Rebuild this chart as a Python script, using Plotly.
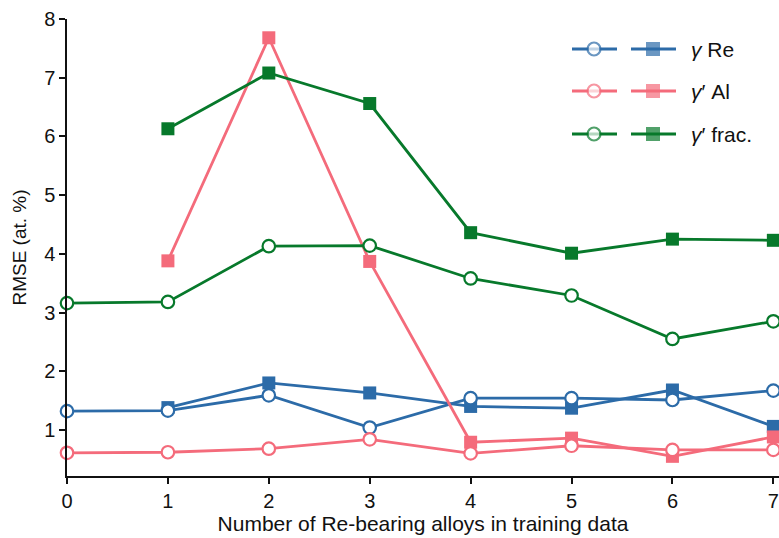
import plotly.graph_objects as go

# Number of Re-bearing alloys included in the training set
n_alloys = [0, 1, 2, 3, 4, 5, 6, 7]
n_alloys_sq = [1, 2, 3, 4, 5, 6, 7]

# RMSE (at. %) — open-circle series
re_gamma_open = [1.32, 1.33, 1.59, 1.04, 1.54, 1.54, 1.51, 1.67]
al_gprime_open = [0.61, 0.62, 0.68, 0.84, 0.60, 0.73, 0.66, 0.66]
frac_gprime_open = [3.16, 3.18, 4.13, 4.14, 3.58, 3.29, 2.55, 2.85]

# RMSE (at. %) — filled-square series
re_gamma_sq = [1.38, 1.80, 1.63, 1.40, 1.37, 1.68, 1.06]
al_gprime_sq = [3.88, 7.68, 3.87, 0.79, 0.86, 0.55, 0.88]
frac_gprime_sq = [6.13, 7.08, 6.56, 4.36, 4.01, 4.25, 4.23]

x_ticks = [0, 1, 2, 3, 4, 5, 6, 7]
y_ticks = [1, 2, 3, 4, 5, 6, 7, 8]

BLUE = "#2c6ba8"
PINK = "#f46b7b"
GREEN = "#07792b"
FONT = "Liberation Sans"
INK = "#111111"
LW = 2.8

W, H = 779, 538
ML, MR, MT, MB = 67, 0, 19, 62

fig = go.Figure()

series = [
    (n_alloys_sq, re_gamma_sq, n_alloys, re_gamma_open, BLUE),
    (n_alloys_sq, al_gprime_sq, n_alloys, al_gprime_open, PINK),
    (n_alloys_sq, frac_gprime_sq, n_alloys, frac_gprime_open, GREEN),
]

for xs, ys, xc, yc, col in series:
    fig.add_trace(go.Scatter(
        x=xs, y=ys, mode="lines+markers", showlegend=False,
        line=dict(color=col, width=LW),
        marker=dict(symbol="square", size=13, color=col, line=dict(width=0)),
        cliponaxis=False, hoverinfo="skip",
    ))
    fig.add_trace(go.Scatter(
        x=xc, y=yc, mode="lines+markers", showlegend=False,
        line=dict(color=col, width=LW),
        marker=dict(symbol="circle", size=12.5, color="white",
                    line=dict(width=2.2, color=col)),
        cliponaxis=False, hoverinfo="skip",
    ))

# Legend drawn on a pixel-scaled overlay axis: open-circle and filled-square
# samples side by side, followed by the label
plot_w = W - ML - MR
plot_h = H - MT - MB
legend_rows = [
    (49, BLUE, "<i>γ</i> Re"),
    (91, PINK, "<i>γ</i>′ Al"),
    (134, GREEN, "<i>γ</i>′ frac."),
]
for py, col, label in legend_rows:
    yy = (H - MB) - py
    fig.add_trace(go.Scatter(
        x=[572 - ML, 594 - ML, 617 - ML], y=[yy, yy, yy],
        xaxis="x2", yaxis="y2", mode="lines+markers", showlegend=False,
        line=dict(color=col, width=LW),
        marker=dict(symbol="circle", size=[0, 13, 0], color="white",
                    line=dict(width=[0, 2.2, 0], color=col)),
        hoverinfo="skip",
    ))
    fig.add_trace(go.Scatter(
        x=[631 - ML, 653 - ML, 676 - ML], y=[yy, yy, yy],
        xaxis="x2", yaxis="y2", mode="lines+markers", showlegend=False,
        line=dict(color=col, width=LW),
        marker=dict(symbol="square", size=[0, 14, 0], color=col,
                    line=dict(width=0)),
        hoverinfo="skip",
    ))
    fig.add_annotation(
        x=689 - ML, y=yy, xref="x2", yref="y2", text=label,
        showarrow=False, xanchor="left", yanchor="middle",
        font=dict(family=FONT, size=21, color=INK),
    )

fig.update_layout(
    width=W, height=H,
    margin=dict(l=ML, r=MR, t=MT, b=MB, pad=0),
    paper_bgcolor="white", plot_bgcolor="white",
    font=dict(family=FONT, size=20, color=INK),
    xaxis=dict(
        range=[0, 7.056], tickvals=x_ticks, ticktext=[str(v) for v in x_ticks],
        showgrid=False, zeroline=False, showline=True, linecolor=INK,
        linewidth=1.5, ticks="outside", ticklen=6, tickwidth=1.5,
        tickcolor=INK, tickfont=dict(size=20),
        title=dict(text="Number of Re-bearing alloys in training data",
                   font=dict(size=21), standoff=0),
    ),
    yaxis=dict(
        range=[0.215, 8], tickvals=y_ticks, ticktext=[str(v) for v in y_ticks],
        showgrid=False, zeroline=False, showline=True, linecolor=INK,
        linewidth=1.5, ticks="outside", ticklen=6, tickwidth=1.5,
        tickcolor=INK, tickfont=dict(size=20),
        title=dict(text="RMSE (at. %)", font=dict(size=19), standoff=12),
    ),
    xaxis2=dict(domain=[0, 1], range=[0, plot_w], overlaying="x",
                visible=False, fixedrange=True),
    yaxis2=dict(domain=[0, 1], range=[0, plot_h], overlaying="y",
                visible=False, fixedrange=True, anchor="x2"),
)

fig.write_html("out.html")
